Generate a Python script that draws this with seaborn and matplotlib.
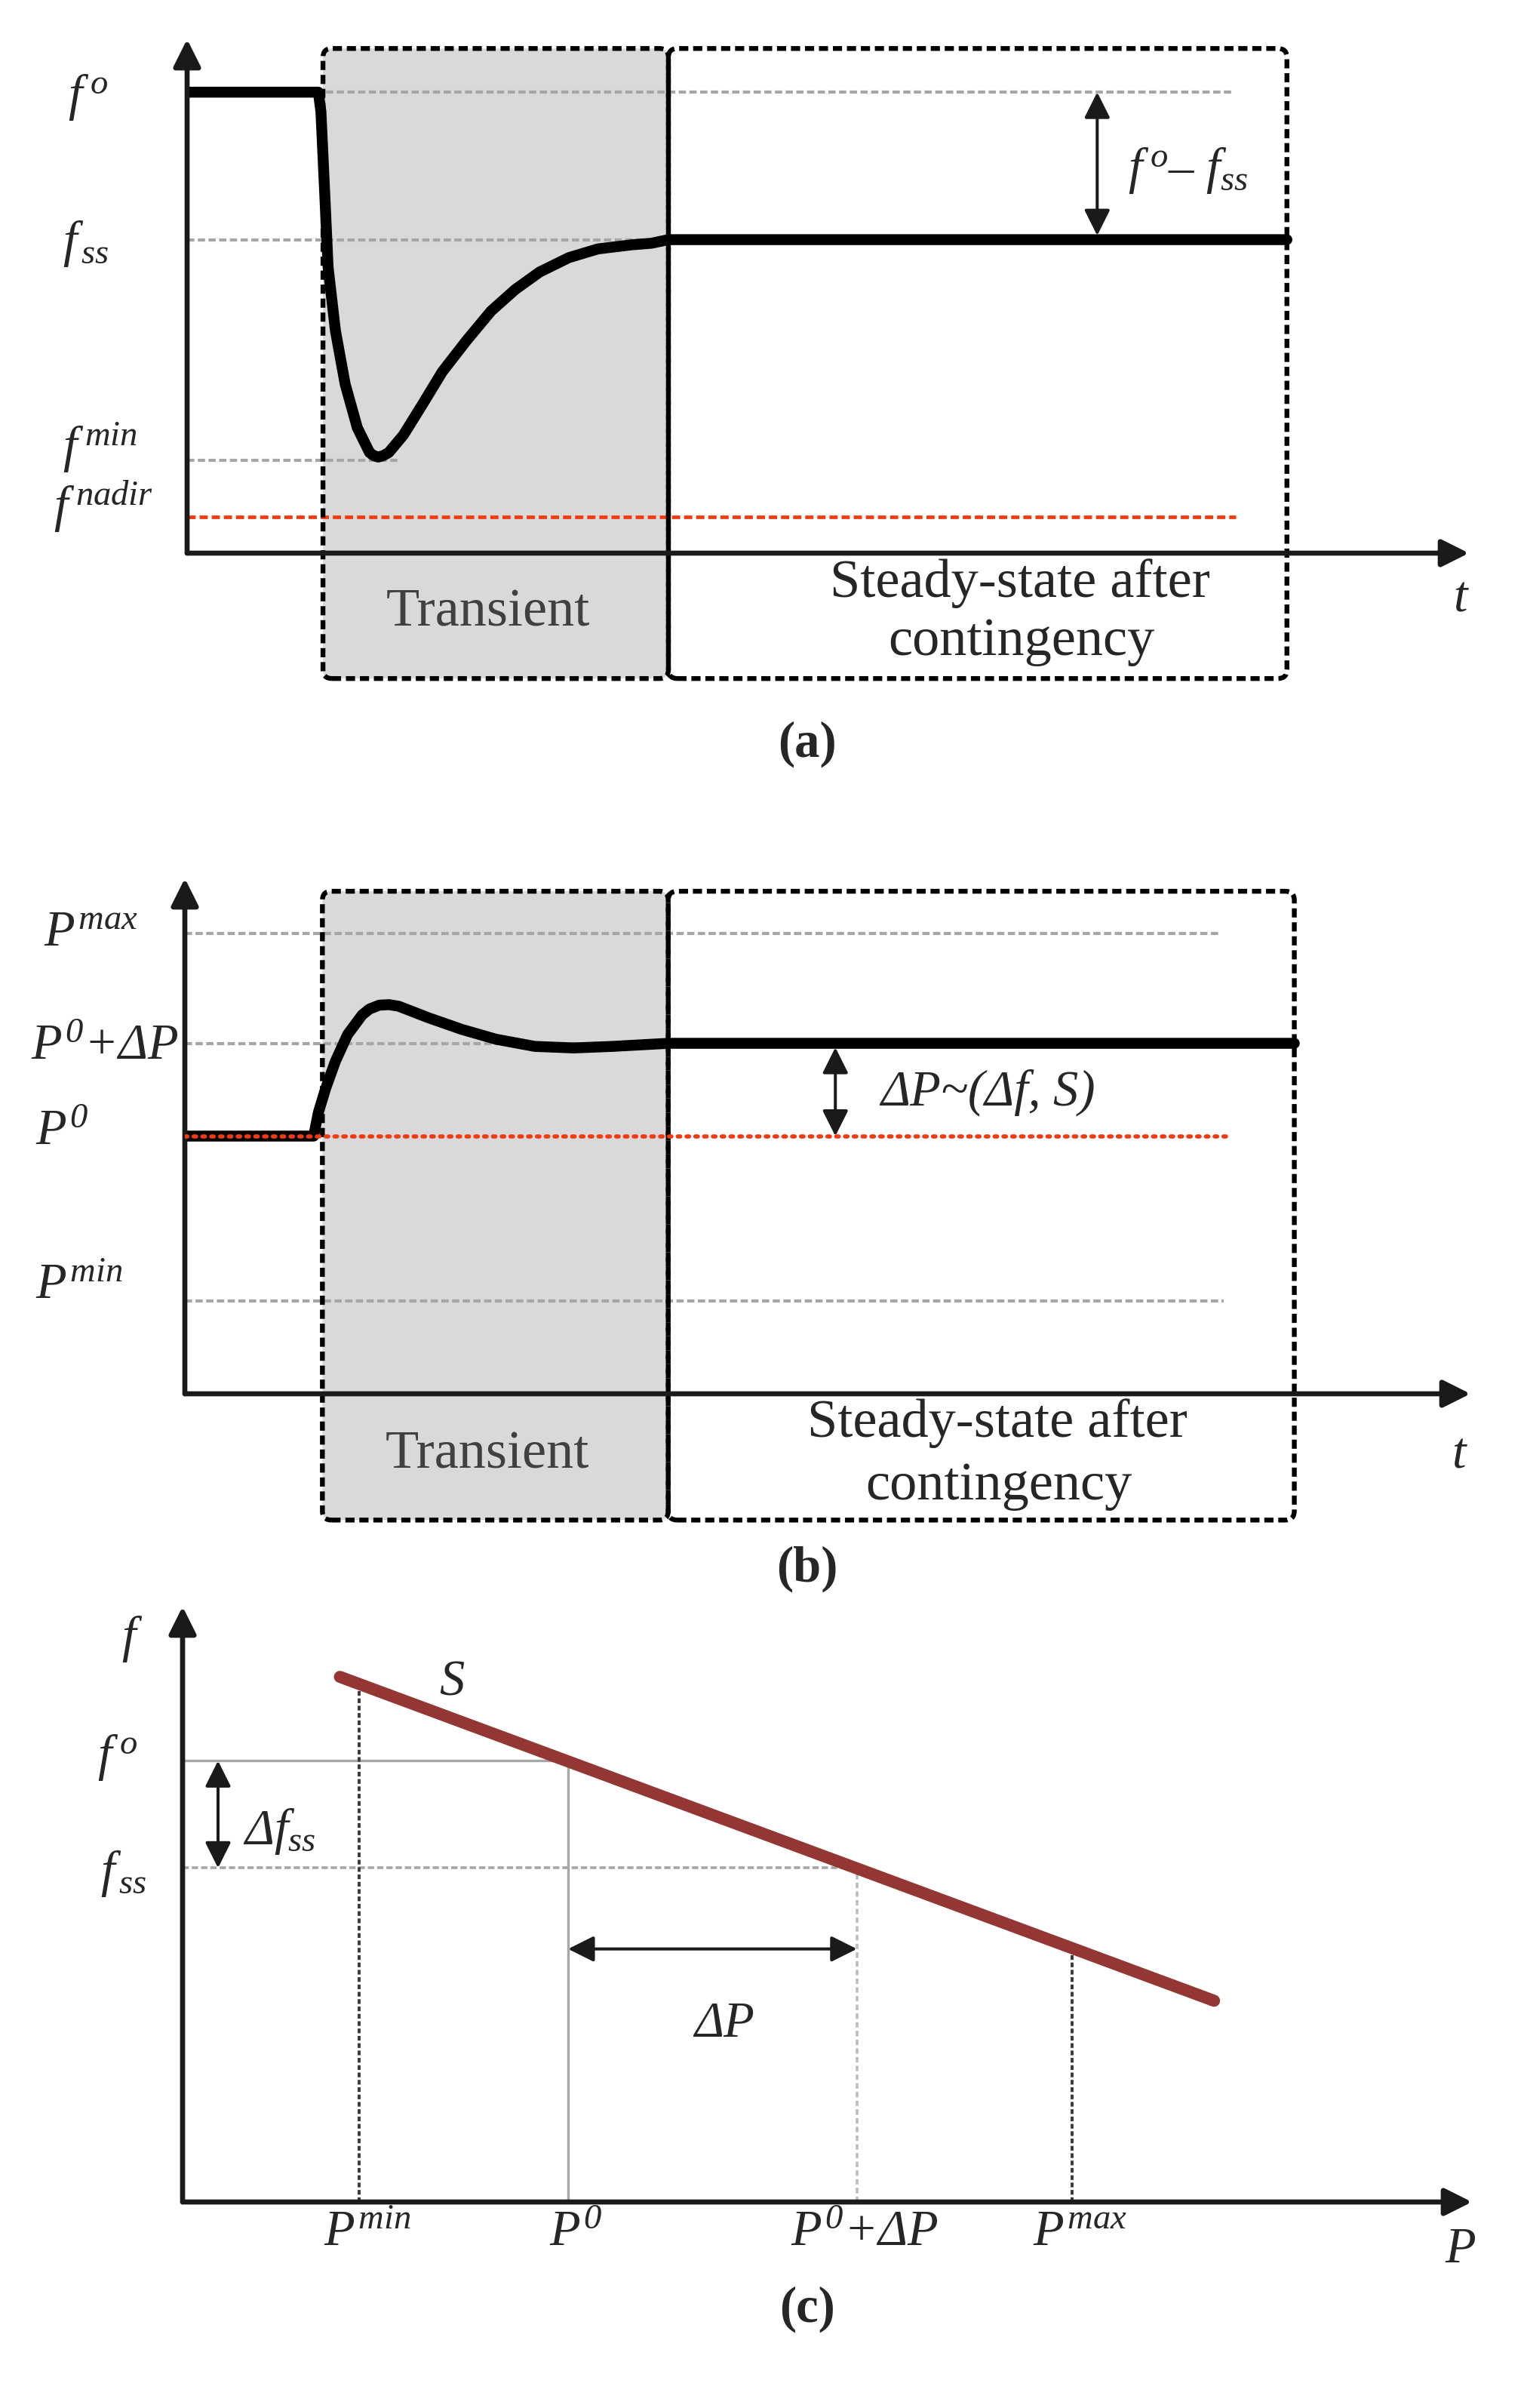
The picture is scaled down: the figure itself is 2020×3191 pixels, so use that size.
import numpy as np
import pandas as pd
import matplotlib
matplotlib.use("Agg")
import matplotlib.pyplot as plt
import seaborn as sns
from matplotlib.patches import FancyBboxPatch

# ---------------- data ----------------
# (a) frequency response after a contingency (arbitrary units)
t_a = [0.0, 10.24, 10.44, 10.74, 11.0, 11.57, 12.33, 13.28, 14.23, 14.53, 14.91, 15.33, 15.74,
       16.88, 18.40, 19.91, 21.81, 23.71, 25.6, 27.5, 29.78, 32.05, 34.7, 36.22, 37.55, 85.8]
f_a = [89.7, 89.7, 85.9, 69.8, 55.6, 43.3, 32.9, 24.4, 19.6, 19.0, 18.7, 19.0, 19.6,
       23.0, 29.1, 35.3, 41.4, 47.1, 51.3, 54.7, 57.5, 59.2, 60.0, 60.3, 61.0, 61.0]
f_levels = {"f0": 89.7, "fss": 61.0, "fmin": 18.1, "fnadir": 7.0}
a_regions = [10.6, 37.55, 85.8]          # transient start, transient end, steady end

# (b) power response (arbitrary units)
t_b = [0.0, 10.02, 10.39, 10.96, 11.71, 12.66, 13.79, 14.36, 15.12, 15.87, 16.63, 18.9,
       21.54, 24.19, 27.22, 30.24, 33.27, 37.62, 86.3]
p_b = [50.0, 50.0, 54.6, 59.3, 64.5, 69.7, 73.5, 74.65, 75.4, 75.5, 75.2, 73.0,
       70.7, 68.8, 67.4, 67.1, 67.4, 68.0, 68.0]
p_levels = {"Pmax": 89.3, "P0dP": 68.0, "P0": 50.0, "Pmin": 18.0}
b_regions = [10.7, 37.6, 86.3]

# (c) droop characteristic S
S_P = [12.2, 80.0]
S_f = [88.2, 33.8]
c_P = {"Pmin": 13.7, "P0": 29.9, "P0dP": 52.3, "Pmax": 69.0}
c_f = {"f0": 74.1, "fss": 56.1}

# ---------------- style ----------------
sns.set_theme(style="white")
plt.rcParams["font.family"] = ["Liberation Serif", "DejaVu Serif"]
plt.rcParams["mathtext.fontset"] = "custom"
plt.rcParams["mathtext.rm"] = "Liberation Serif:italic"
plt.rcParams["mathtext.it"] = "Liberation Serif:italic"
plt.rcParams["mathtext.bf"] = "Liberation Serif:bold"

W, H = 2020, 3191
fig = plt.figure(figsize=(W / 100, H / 100), dpi=100)
fig.patch.set_facecolor("white")

GRAY = "#A6A6A6"
RED = "#F23A12"
SHADE = "#D9D9D9"
MATH = 48
TXT = 52
CURVE_LW = 10.4
GRAY_LW = 3.0
GRAY_LS = (0, (2.3, 1.1))

def make_ax(left, right, bottom, top):
    ax = fig.add_axes([left / W, 1 - bottom / H, (right - left) / W, (bottom - top) / H])
    ax.set_xlim(0, 100)
    ax.set_ylim(0, 100)
    ax.set_axis_off()
    kw = dict(arrowstyle="-|>,head_length=1.0,head_width=0.5", color="k", lw=4.8,
              shrinkA=0, shrinkB=0, mutation_scale=22)
    ax.annotate("", xy=(1, 0), xytext=(0, 0), xycoords="axes fraction",
                textcoords="axes fraction", arrowprops=kw, annotation_clip=False, zorder=6)
    ax.annotate("", xy=(0, 1), xytext=(0, 0), xycoords="axes fraction",
                textcoords="axes fraction", arrowprops=kw, annotation_clip=False, zorder=6)
    return ax

def dbl_arrow(ax, p1, p2):
    ax.annotate("", xy=p2, xytext=p1, xycoords="data", textcoords="data",
                arrowprops=dict(arrowstyle="<|-|>,head_length=1.1,head_width=0.55",
                                color="k", lw=2.9, shrinkA=0, shrinkB=0, mutation_scale=19),
                annotation_clip=False, zorder=7)

def boxes(ax, regions, ytop, ybot, aspect):
    x0, x1, x2 = regions
    for xa, xb, fill in [(x0, x1, SHADE), (x1, x2, "none")]:
        if fill != "none":
            ax.add_patch(FancyBboxPatch((xa, ybot), xb - xa, ytop - ybot,
                                        boxstyle="round,pad=0,rounding_size=0.7",
                                        mutation_aspect=aspect, facecolor=fill,
                                        edgecolor="none", clip_on=False, zorder=0))
        ax.add_patch(FancyBboxPatch((xa, ybot), xb - xa, ytop - ybot,
                                    boxstyle="round,pad=0,rounding_size=0.7",
                                    mutation_aspect=aspect, facecolor="none",
                                    edgecolor="black", lw=4.6, linestyle=(0, (1.9, 1.0)),
                                    clip_on=False, zorder=4))

def hline(ax, y, x0, x1, color=GRAY, ls=GRAY_LS, lw=GRAY_LW, z=1, cap="butt"):
    ax.plot([x0, x1], [y, y], color=color, lw=lw, linestyle=ls, zorder=z,
            dash_capstyle=cap, solid_capstyle="butt")

def vline(ax, x, y0, y1, color=GRAY, ls=GRAY_LS, lw=GRAY_LW, z=1):
    ax.plot([x, x], [y0, y1], color=color, lw=lw, linestyle=ls, zorder=z,
            solid_capstyle="butt")

# ================= panel (a) =================
axa = make_ax(248, 1947, 733, 52)
boxes(axa, a_regions, 98.2, -24.4, 16.99 / 6.81)
hline(axa, f_levels["f0"], 0, 81.6)
hline(axa, f_levels["fss"], 0, 40)
hline(axa, f_levels["fmin"], 0, 16.5)
hline(axa, f_levels["fnadir"], 0, 81.8, color=RED, lw=3.4)
df_a = pd.DataFrame({"t": t_a, "f": f_a})
sns.lineplot(data=df_a, x="t", y="f", ax=axa, color="black", linewidth=CURVE_LW, sort=False,
             estimator=None, legend=False, solid_capstyle="round",
             solid_joinstyle="round", zorder=5)
axa.set_xlim(0, 100); axa.set_ylim(0, 100); axa.set_axis_off()
dbl_arrow(axa, (71.0, f_levels["fss"] + 0.8), (71.0, f_levels["f0"]))
axa.text(-9.3, 88.7, r"$f^{\,o}$", fontsize=MATH, ha="left", va="center")
axa.text(-9.7, 60.2, r"$f_{\,ss}$", fontsize=MATH, ha="left", va="center")
axa.text(-9.7, 20.5, r"$f^{\,min}$", fontsize=MATH, ha="left", va="center")
axa.text(-10.4, 9.0, r"$f^{\,nadir}$", fontsize=MATH, ha="left", va="center")
axa.text(73.4, 74.4, r"$f^{\,o}$– $f_{ss}$", fontsize=MATH, ha="left", va="center")
axa.text(23.5, -11.6, "Transient", fontsize=TXT, ha="center", va="center", color="#404040")
axa.text(65.0, -5.9, "Steady-state after", fontsize=TXT, ha="center", va="center")
axa.text(65.1, -17.2, "contingency", fontsize=TXT, ha="center", va="center")
axa.text(99.4, -8.8, r"$t$", fontsize=MATH, ha="center", va="center")

# ================= panel (b) =================
axb = make_ax(245, 1949, 1847, 1164)
boxes(axb, b_regions, 97.5, -24.5, 17.04 / 6.83)
hline(axb, p_levels["Pmax"], 0, 80.6)
hline(axb, p_levels["P0dP"], 0, 40)
hline(axb, p_levels["Pmin"], 0, 80.8)
df_b = pd.DataFrame({"t": t_b, "P": p_b})
sns.lineplot(data=df_b, x="t", y="P", ax=axb, color="black", linewidth=CURVE_LW, sort=False,
             estimator=None, legend=False, solid_capstyle="round",
             solid_joinstyle="round", zorder=5)
axb.set_xlim(0, 100); axb.set_ylim(0, 100); axb.set_axis_off()
hline(axb, p_levels["P0"], 0, 81.4, color=RED, lw=4.0, ls=(0, (0.6, 1.5)), z=6, cap="round")
dbl_arrow(axb, (50.6, p_levels["P0"]), (50.6, p_levels["P0dP"] - 0.8))
axb.text(-11.0, 89.2, r"$P^{max}$", fontsize=MATH, ha="left", va="center")
axb.text(-12.0, 67.3, r"$P^{0}{+}\Delta P$", fontsize=MATH, ha="left", va="center")
axb.text(-11.6, 50.8, r"$P^{0}$", fontsize=MATH, ha="left", va="center")
axb.text(-11.6, 20.8, r"$P^{min}$", fontsize=MATH, ha="left", va="center")
axb.text(54.1, 58.4, "ΔP~(Δf, S)", fontsize=MATH, ha="left", va="center", style="italic")
axb.text(23.5, -11.9, "Transient", fontsize=TXT, ha="center", va="center", color="#404040")
axb.text(63.2, -5.7, "Steady-state after", fontsize=TXT, ha="center", va="center")
axb.text(63.3, -18.0, "contingency", fontsize=TXT, ha="center", va="center")
axb.text(99.2, -11.9, r"$t$", fontsize=MATH, ha="center", va="center")

# ================= panel (c) =================
axc = make_ax(242, 1951, 2918, 2129)
hline(axc, c_f["f0"], 0, c_P["P0"], ls="-", lw=2.4)
vline(axc, c_P["P0"], 0, c_f["f0"], ls="-", lw=2.4)
hline(axc, c_f["fss"], 0, c_P["P0dP"], lw=2.6)
vline(axc, c_P["P0dP"], 0, c_f["fss"], color="#BDBDBD", ls=(0, (2.0, 1.2)), lw=2.6)
for key in ("Pmin", "Pmax"):
    vline(axc, c_P[key], 0, float(np.interp(c_P[key], S_P, S_f)), color="#3A3A3A",
          ls=(0, (1.6, 0.9)), lw=2.8)
df_c = pd.DataFrame({"P": S_P, "f": S_f})
sns.lineplot(data=df_c, x="P", y="f", ax=axc, color="#943634", linewidth=11.5, sort=False,
             estimator=None, legend=False, solid_capstyle="round", zorder=5)
axc.set_xlim(0, 100); axc.set_ylim(0, 100); axc.set_axis_off()
dbl_arrow(axc, (2.75, c_f["fss"]), (2.75, c_f["f0"]))
dbl_arrow(axc, (c_P["P0"], 42.5), (c_P["P0dP"], 42.5))
axc.text(-3.9, 94.5, r"$f$", fontsize=MATH, ha="center", va="center")
axc.text(-6.6, 74.6, r"$f^{\,o}$", fontsize=MATH, ha="left", va="center")
axc.text(-6.4, 55.1, r"$f_{\,ss}$", fontsize=MATH, ha="left", va="center")
axc.text(4.7, 62.2, r"$\Delta f_{ss}$", fontsize=MATH, ha="left", va="center")
axc.text(20.9, 87.3, r"$S$", fontsize=MATH, ha="center", va="center")
axc.text(42.0, 29.8, "ΔP", fontsize=MATH, ha="center", va="center", style="italic")
tick_labels = {"Pmin": r"$P^{min}$", "P0": r"$P^{0}$", "P0dP": r"$P^{0}{+}\Delta P$",
               "Pmax": r"$P^{max}$"}
for key, lab in tick_labels.items():
    axc.text(c_P[key] + 0.6, -5.3, lab, fontsize=MATH, ha="center", va="center")
axc.text(99.1, -8.0, r"$P$", fontsize=MATH, ha="center", va="center")

# panel letters
for lab, ypx in (("(a)", 986), ("(b)", 2079), ("(c)", 3060)):
    fig.text(1070 / W, 1 - ypx / H, lab, fontsize=48, fontweight="bold",
             ha="center", va="center")

fig.savefig("out.png", dpi=100, facecolor="white")
